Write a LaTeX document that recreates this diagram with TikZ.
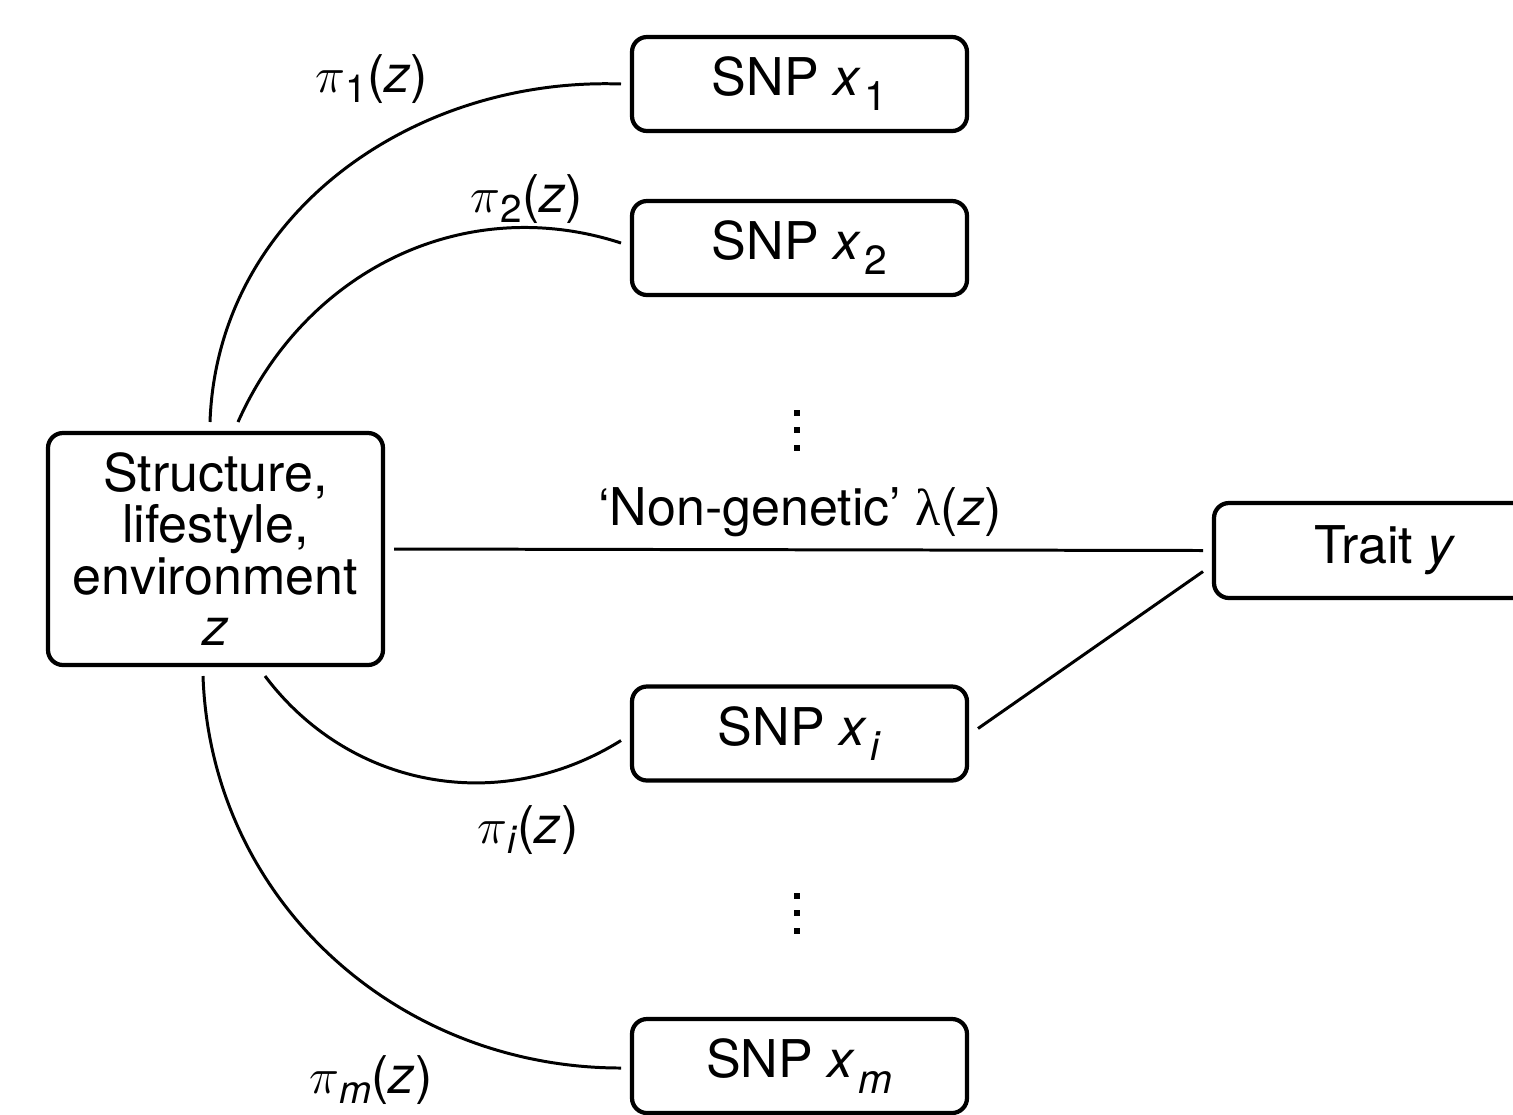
\documentclass[tikz,border=0pt]{standalone}
\usepackage{fontspec}
\setmainfont{TeX Gyre Heros}
\newfontfamily\greekserif{Liberation Serif}
\usepackage{tikz}
\usetikzlibrary{positioning}

% lowered subscript: [drop]{size}{text}
\newcommand{\dropsub}[3][4.3pt]{\raisebox{-#1}{\fontsize{#2}{#2}\selectfont #3}}

\begin{document}
\begin{tikzpicture}[
    box/.style={draw, line width=1.2pt, rounded corners=0.15cm, outer sep=0.11cm,
                align=center, font=\fontsize{14.8}{14.6}\selectfont},
    snpbox/.style={box, minimum width=3.35cm, minimum height=0.94cm},
    link/.style={line width=0.85pt},
    lbl/.style={anchor=base, font=\fontsize{14.8}{17}\selectfont}]
    \useasboundingbox (0,0) rectangle (15.13,-11.14);

    % left block and trait
    \node[box, minimum width=3.35cm, minimum height=2.32cm] (env) at (2.155,-5.49)
        {Structure,\\lifestyle,\\environment\\\textit{z}};
    \node[box, minimum width=3.42cm, minimum height=0.95cm] (trait) at (13.85,-5.505)
        {Trait \textit{y}};

    % SNPs
    \node[snpbox] (snp1) at (7.995,-0.84) {SNP \textit{x}\kern1pt\dropsub{11.6}{1}};
    \node[snpbox] (snp2) at (7.995,-2.48) {SNP \textit{x}\kern1pt\dropsub{11.6}{2}};
    \node[snpbox] (snpi) at (7.995,-7.335) {SNP \textit{x}\kern1pt\dropsub{11.6}{\textit{i}}};
    \node[snpbox] (snpm) at (7.995,-10.66) {SNP \textit{x}\kern1pt\dropsub{11.6}{\textit{m}}};

    % dots
    \foreach \y in {4.13,4.30,4.48, 8.96,9.13,9.31} {
        \fill (7.97-0.03,-\y-0.03) rectangle ++(0.06,0.06);
    }

    % links from z
    \draw[link] ([xshift=-0.055cm]env.north) to[out=88,in=178] (snp1.west);
    \draw[link] ([xshift=0.225cm]env.north) to[out=66,in=162] ([yshift=0.05cm]snp2.west);
    \draw[link] ([xshift=0.495cm]env.south) to[out=-53,in=212] ([yshift=-0.07cm]snpi.west);
    \draw[link] ([xshift=-0.125cm]env.south) to[out=-88,in=180] ([yshift=-0.02cm]snpm.west);
    \draw[link] (env.east) -- (trait.west);
    \draw[link] ([yshift=0.05cm]snpi.east) -- ([yshift=-0.21cm]trait.west);

    % labels
    \node[lbl] (pi1) at (3.72,-0.92) {$\pi$\dropsub[3pt]{11}{1}(\textit{z})};
    \node[lbl] (pi2) at (5.27,-2.12) {$\pi$\dropsub[3pt]{11}{2}(\textit{z})};
    \node[lbl] (pii) at (5.28,-8.43) {$\pi$\dropsub[3pt]{11}{\textit{i}}(\textit{z})};
    \node[lbl] (pim) at (3.71,-10.93) {$\pi$\dropsub[3pt]{11}{\textit{m}}(\textit{z})};
    \node[lbl] (lam) at (8.00,-5.25) {‘Non-genetic’ {\greekserif λ}(\textit{z})};
\end{tikzpicture}
\end{document}
